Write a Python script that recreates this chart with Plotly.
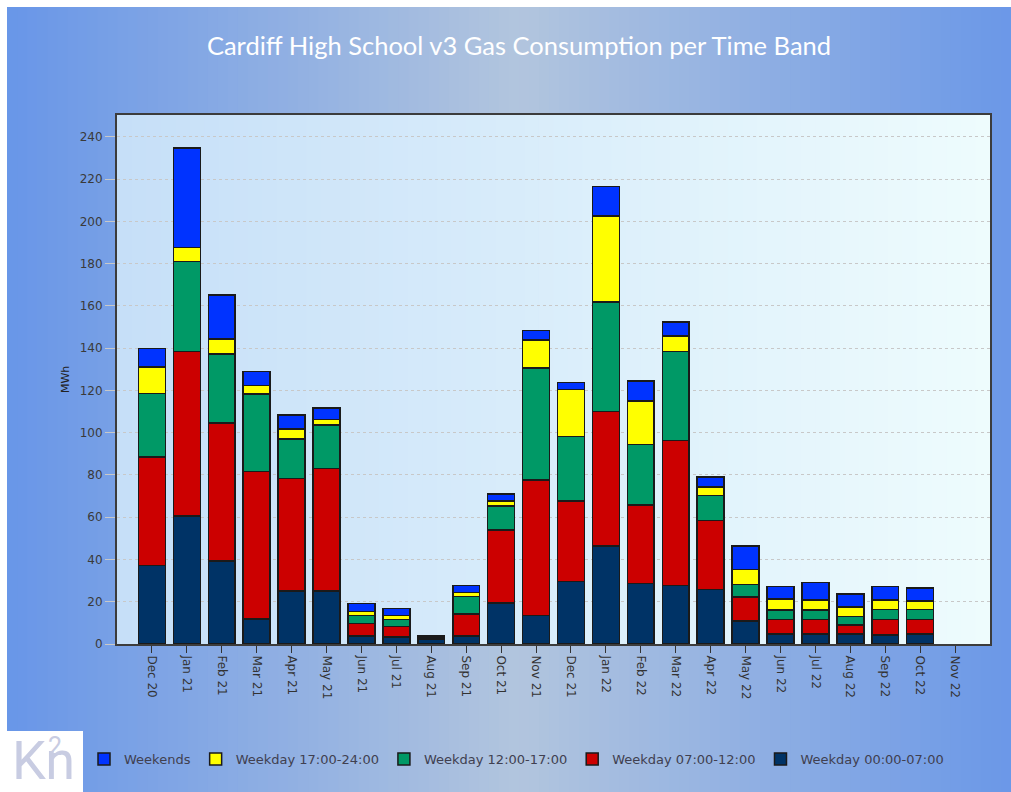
import plotly.graph_objects as go

months = ["Dec 20", "Jan 21", "Feb 21", "Mar 21", "Apr 21", "May 21", "Jun 21", "Jul 21",
          "Aug 21", "Sep 21", "Oct 21", "Nov 21", "Dec 21", "Jan 22", "Feb 22", "Mar 22",
          "Apr 22", "May 22", "Jun 22", "Jul 22", "Aug 22", "Sep 22", "Oct 22", "Nov 22"]

# MWh per time band (stack order bottom -> top); Nov 22 has no data yet
wd_00_07 = [37.2, 60.5, 39.2, 11.8, 25.1, 25.2, 3.7, 3.2, 2.4, 3.7, 19.3, 13.6,
            29.7, 46.5, 28.6, 27.7, 25.7, 11.0, 4.8, 4.8, 4.8, 4.2, 4.8, None]
wd_07_12 = [51.2, 78.0, 65.3, 69.9, 53.3, 57.9, 5.9, 5.1, 0.3, 10.6, 34.7, 64.1,
            38.1, 63.5, 37.2, 68.6, 32.8, 11.3, 6.7, 6.7, 4.2, 7.3, 6.8, None]
wd_12_17 = [30.2, 42.5, 32.7, 36.6, 18.6, 20.6, 4.0, 3.3, 0.2, 8.1, 11.4, 52.9,
            30.5, 51.8, 28.7, 42.2, 11.9, 5.9, 4.6, 4.6, 4.0, 4.8, 4.7, None]
wd_17_24 = [12.5, 6.7, 7.2, 4.1, 4.7, 2.6, 1.7, 1.9, 0.1, 1.9, 2.4, 13.3,
            22.1, 40.7, 20.5, 7.2, 3.9, 7.0, 5.3, 4.7, 4.4, 4.6, 4.0, None]
weekends = [8.8, 47.2, 20.9, 6.5, 6.8, 5.5, 3.8, 3.4, 0.7, 3.4, 3.1, 4.6,
            3.5, 14.1, 9.4, 6.8, 4.8, 11.3, 5.8, 8.3, 6.2, 6.3, 6.3, None]

series = [
    ("Weekday 00:00-07:00", wd_00_07, "#003366"),
    ("Weekday 07:00-12:00", wd_07_12, "#cc0000"),
    ("Weekday 12:00-17:00", wd_12_17, "#009966"),
    ("Weekday 17:00-24:00", wd_17_24, "#ffff00"),
    ("Weekends", weekends, "#0033ff"),
]

W, H = 1011, 792
ML, MR, MT, MB = 117, 21, 115, 148
PW, PH = W - ML - MR, H - MT - MB


def px_x(x):
    return (x - ML) / PW


def px_y(y):
    return (H - MB - y) / PH


def mix(c0, c1, t):
    return "rgb(%d,%d,%d)" % tuple(round(a + (b - a) * t) for a, b in zip(c0, c1))


fig = go.Figure()
for name, vals, col in series:
    fig.add_trace(go.Bar(
        x=months, y=vals, name=name,
        marker=dict(color=col, line=dict(color="#1a1a1a", width=1.5)),
        width=0.77,
    ))

shapes = []
# page background gradient: blue edges, pale steel blue centre
edge, mid = (104, 150, 232), (178, 197, 222)
n = 100
for i in range(n):
    x0 = 7 + (W - 7) * i / n
    x1 = 7 + (W - 7) * (i + 1) / n + 1
    t = ((x0 + x1) / 2 - 7) / (W - 7)
    k = 1 - abs(t - 0.51) / 0.51
    shapes.append(dict(type="rect", xref="paper", yref="paper", layer="below",
                       x0=px_x(x0), x1=px_x(min(x1, W)), y0=px_y(H), y1=px_y(7),
                       fillcolor=mix(edge, mid, max(k, 0)), line_width=0))
# plot area gradient: light blue to near white
left, right = (198, 223, 248), (238, 252, 253)
m = 60
for i in range(m):
    t0, t1 = i / m, (i + 1) / m
    shapes.append(dict(type="rect", xref="paper", yref="paper", layer="below",
                       x0=t0, x1=min(t1 + 0.002, 1), y0=0, y1=1,
                       fillcolor=mix(left, right, (t0 + t1) / 2), line_width=0))
# logo box
shapes.append(dict(type="rect", xref="paper", yref="paper", layer="below",
                   x0=px_x(0), x1=px_x(83), y0=px_y(H), y1=px_y(731),
                   fillcolor="white", line_width=0))

logo_font = dict(family="Roboto", color="#c8cce2")

fig.update_layout(
    width=W, height=H,
    margin=dict(l=ML, r=MR, t=MT, b=MB),
    paper_bgcolor="white", plot_bgcolor="rgba(0,0,0,0)",
    barmode="stack",
    shapes=shapes,
    font=dict(family="DejaVu Sans", size=12, color="#3a3a3a"),
    title=dict(text="Cardiff High School v3 Gas Consumption per Time Band",
               x=519 / W, xref="container", xanchor="center",
               y=1 - 46 / H, yref="container", yanchor="middle",
               font=dict(family="Lato", size=25.5, color="white")),
    legend=dict(orientation="h", traceorder="reversed",
                x=px_x(84), xanchor="left", y=px_y(759), yanchor="middle",
                bgcolor="rgba(0,0,0,0)",
                font=dict(family="DejaVu Sans", size=13, color="#404050")),
    annotations=[
        dict(text="MWh", xref="paper", yref="paper", x=px_x(57), y=0.5,
             textangle=-90, showarrow=False,
             font=dict(family="DejaVu Sans", size=11, color="#222222")),
        dict(text="Kn", xref="paper", yref="paper", x=px_x(10), y=px_y(H + 2),
             xanchor="left", yanchor="bottom", showarrow=False,
             font=dict(size=54, **logo_font)),
        dict(text="2", xref="paper", yref="paper", x=px_x(55), y=px_y(746),
             xanchor="center", yanchor="middle", showarrow=False,
             font=dict(size=25, **logo_font)),
    ],
)
fig.update_xaxes(
    range=[-1, 24], tickangle=90, ticks="outside", ticklen=7, tickcolor="#333333",
    showline=True, linecolor="#3c3c3c", linewidth=2, mirror=True,
    showgrid=False, tickfont=dict(size=12, color="#333333"),
)
fig.update_yaxes(
    range=[0, 250.4], tickvals=list(range(0, 241, 20)), ticks="outside", ticklen=10,
    tickcolor="#c8c8c8", showline=True, linecolor="#3c3c3c", linewidth=2, mirror=True,
    showgrid=True, gridcolor="#c8c8c8", griddash="dot", gridwidth=1, zeroline=False,
    tickfont=dict(size=12, color="#3a3a3a"),
)

fig.write_html("out.html", config={"displayModeBar": False},
               post_script="document.body.style.margin='0';"
                           "document.body.style.overflow='hidden';")
